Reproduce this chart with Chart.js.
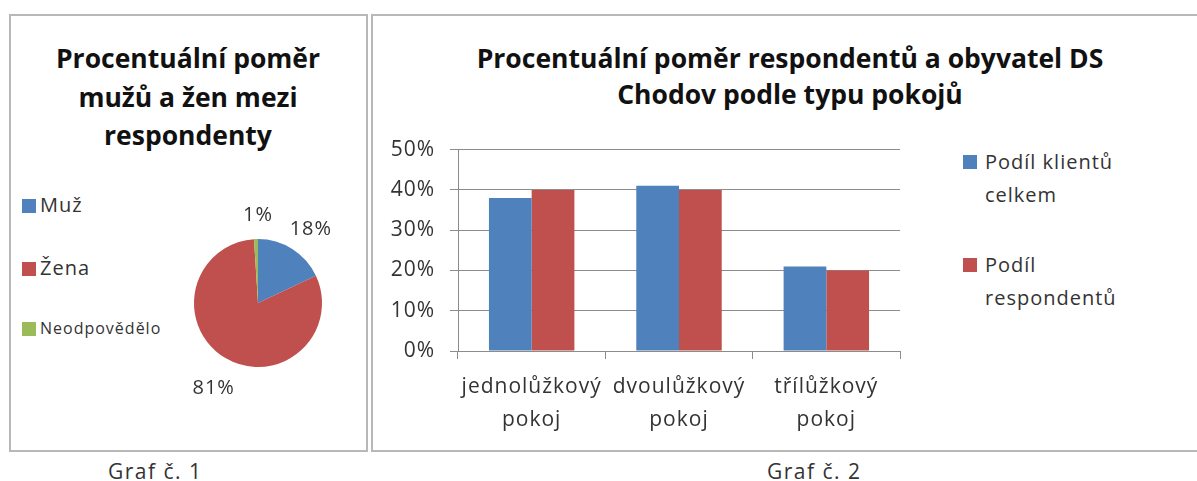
<!DOCTYPE html>
<html>
<head>
<meta charset="utf-8">
<script src="https://cdn.jsdelivr.net/npm/chart.js@4.4.0/dist/chart.umd.min.js"></script>
<style>
  body { margin: 0; background: #fff; font-family: "Open Sans", sans-serif; color: #262626; }
  .box { position: absolute; border: 2px solid #b8b8b8; background: #fff; box-sizing: border-box; }
  .title { position: absolute; font-weight: bold; text-align: center; color: #111; }
  .cap { position: absolute; font-size: 21px; letter-spacing: 1.5px; color: #333; }
  .leg { position: absolute; font-size: 20px; line-height: 33px; letter-spacing: 1px; color: #333; }
  .sw { position: absolute; width: 14px; height: 14px; }
  canvas { position: absolute; }
</style>
</head>
<body>
<div class="box" style="left:9px;top:14px;width:359px;height:438px;"></div>
<div class="box" style="left:371px;top:14px;width:830px;height:438px;"></div>

<div class="title" style="left:20px;top:39px;width:336px;font-size:26.5px;line-height:38.5px;">Procentuální poměr<br>mužů a žen mezi<br>respondenty</div>
<div class="title" style="left:420px;top:40px;width:740px;font-size:26.5px;line-height:36px;">Procentuální poměr respondentů a obyvatel DS<br>Chodov podle typu pokojů</div>

<div id="pieLegend"></div>
<div id="barLegend"></div>

<canvas id="pie" width="240" height="240" style="left:138px;top:183px;width:240px;height:240px;"></canvas>
<canvas id="bar" width="560" height="318" style="left:372px;top:122px;width:560px;height:318px;"></canvas>

<div class="cap" style="left:108px;top:457px;">Graf č. 1</div>
<div class="cap" style="left:767px;top:457px;">Graf č. 2</div>

<script>
// Graf 1 - pohlaví respondentů
const pohlavi = ['Muž', 'Žena', 'Neodpovědělo'];
const pohlaviProcenta = [18, 81, 1];
const pohlaviBarvy = ['#4f81bd', '#c0504d', '#9bbb59'];

// Graf 2 - typ pokoje
const pokoje = [['jednolůžkový', 'pokoj'], ['dvoulůžkový', 'pokoj'], ['třílůžkový', 'pokoj']];
const serie = [['Podíl klientů', 'celkem'], ['Podíl', 'respondentů']];
const podilKlientu = [38, 41, 21];
const podilRespondentu = [40, 40, 20];
const yTicks = [0, 10, 20, 30, 40, 50];

// legendy
const pieLeg = document.getElementById('pieLegend');
const pieLegTop = [188, 251, 312];
pohlavi.forEach((name, i) => {
  const small = i === 2;
  pieLeg.insertAdjacentHTML('beforeend',
    '<div class="sw" style="left:22px;top:' + (pieLegTop[i] + (small ? 10 : 11)) + 'px;background:' + pohlaviBarvy[i] + '"></div>' +
    '<div class="leg" style="left:40px;top:' + pieLegTop[i] + 'px;font-size:' + (small ? 16 : 20) + 'px;">' + name + '</div>');
});

const barLeg = document.getElementById('barLegend');
const barLegTop = [145, 248];
serie.forEach((lines, i) => {
  barLeg.insertAdjacentHTML('beforeend',
    '<div class="sw" style="left:963px;top:' + (barLegTop[i] + 10) + 'px;background:' + pohlaviBarvy[i] + '"></div>' +
    '<div class="leg" style="left:985px;top:' + barLegTop[i] + 'px;">' + lines.join('<br>') + '</div>');
});

// trochu proložené písmo jako v originále
const spacing = {
  id: 'spacing',
  beforeUpdate(chart) { chart.ctx.letterSpacing = '1px'; },
  beforeDraw(chart) { chart.ctx.letterSpacing = '1px'; }
};

// popisky procent kolem koláče
const pieLabels = {
  id: 'pieLabels',
  afterDatasetsDraw(chart) {
    const ctx = chart.ctx;
    const meta = chart.getDatasetMeta(0);
    ctx.save();
    ctx.font = '20px "Open Sans"';
    ctx.fillStyle = '#333';
    ctx.textAlign = 'center';
    ctx.textBaseline = 'middle';
    meta.data.forEach((arc, i) => {
      const mid = (arc.startAngle + arc.endAngle) / 2;
      const r = arc.outerRadius + 29;
      ctx.fillText(pohlaviProcenta[i] + '%', arc.x + Math.cos(mid) * r + 3, arc.y + Math.sin(mid) * r + 5);
    });
    ctx.restore();
  }
};

new Chart(document.getElementById('pie'), {
  type: 'pie',
  data: {
    labels: pohlavi,
    datasets: [{
      data: pohlaviProcenta,
      backgroundColor: pohlaviBarvy,
      borderWidth: 0
    }]
  },
  options: {
    responsive: false,
    animation: false,
    layout: { padding: 56 },
    plugins: { legend: { display: false }, tooltip: { enabled: false } }
  },
  plugins: [spacing, pieLabels]
});

new Chart(document.getElementById('bar'), {
  type: 'bar',
  data: {
    labels: pokoje,
    datasets: [
      { label: serie[0].join(' '), data: podilKlientu, backgroundColor: '#4f81bd' },
      { label: serie[1].join(' '), data: podilRespondentu, backgroundColor: '#c0504d' }
    ]
  },
  options: {
    responsive: false,
    animation: false,
    layout: { padding: { top: 9, right: 32, left: 0, bottom: 0 } },
    datasets: { bar: { categoryPercentage: 0.58, barPercentage: 1 } },
    scales: {
      y: {
        min: 0,
        max: 50,
        afterFit: s => { s.width = 86; },
        afterBuildTicks: s => { s.ticks = yTicks.map(v => ({ value: v })); },
        ticks: {
          callback: v => v + '%',
          font: { family: 'Open Sans', size: 21 },
          color: '#333',
          padding: 15
        },
        grid: { color: '#8c8c8c', tickLength: 8 },
        border: { color: '#8c8c8c' }
      },
      x: {
        afterFit: s => { s.height = 89; },
        ticks: {
          font: { family: 'Open Sans', size: 21, lineHeight: 1.55 },
          color: '#333',
          padding: 12,
          maxRotation: 0
        },
        grid: { drawOnChartArea: false, color: '#8c8c8c', tickLength: 8, offset: true },
        border: { color: '#8c8c8c' }
      }
    },
    plugins: { legend: { display: false }, tooltip: { enabled: false } }
  },
  plugins: [spacing]
});
</script>
</body>
</html>
